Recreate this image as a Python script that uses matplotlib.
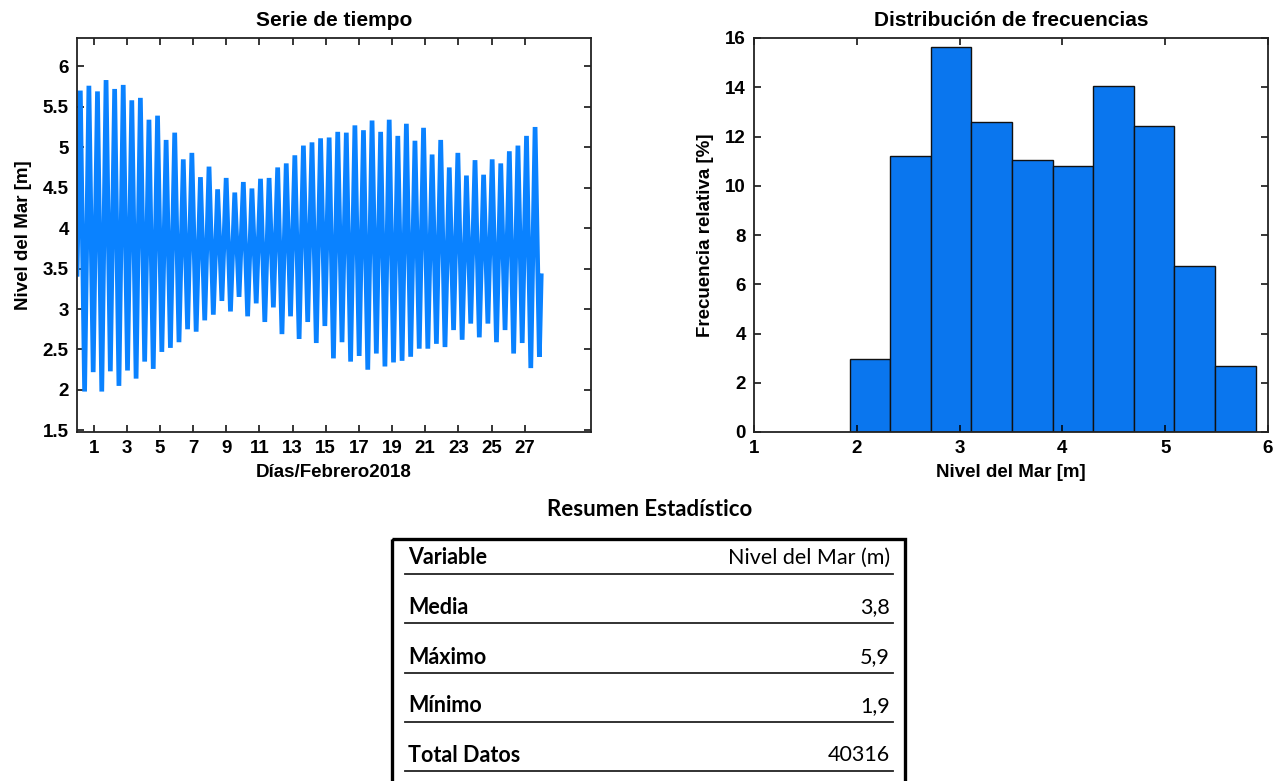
import numpy as np
import matplotlib
matplotlib.use("Agg")
from matplotlib import pyplot as plt
from matplotlib.patches import Rectangle

####################################
### Data
####################################

## high / low water of each semidiurnal tide, February 2018 (m)
high_water = [5.70, 5.76, 5.69, 5.83, 5.72, 5.77, 5.58, 5.61, 5.34, 5.39,
              5.09, 5.18, 4.85, 4.93, 4.63, 4.76, 4.48, 4.62, 4.44, 4.57,
              4.49, 4.61, 4.62, 4.75, 4.80, 4.90, 5.02, 5.06, 5.11, 5.12,
              5.19, 5.18, 5.27, 5.21, 5.33, 5.19, 5.34, 5.14, 5.29, 5.08,
              5.24, 4.91, 5.09, 4.75, 4.93, 4.65, 4.84, 4.66, 4.85, 4.80,
              4.95, 5.02, 5.14, 5.25]
low_water = [1.98, 2.22, 1.98, 2.23, 2.05, 2.24, 2.14, 2.35, 2.26, 2.47,
             2.52, 2.59, 2.75, 2.72, 2.86, 2.93, 3.10, 2.97, 3.15, 2.91,
             3.07, 2.84, 3.02, 2.69, 2.91, 2.63, 2.84, 2.58, 2.79, 2.39,
             2.59, 2.35, 2.42, 2.25, 2.45, 2.29, 2.34, 2.36, 2.41, 2.51,
             2.51, 2.57, 2.53, 2.74, 2.62, 2.82, 2.65, 2.82, 2.59, 2.74,
             2.45, 2.58, 2.27, 2.41]
start_level = 3.40
end_level = 3.44
first_high = 0.20        ## day of first high water
tide_period = 0.5175     ## days (M2)
record_end = 28.0

## histogram of the record
bin_edges = [1.93, 2.325, 2.72, 3.115, 3.51, 3.905, 4.30, 4.695, 5.09, 5.485, 5.88]
rel_freq = [2.97, 11.21, 15.62, 12.58, 11.05, 10.82, 14.05, 12.41, 6.75, 2.66]

day_ticks = list(range(1, 28, 2))
level_ticks = [1.5, 2, 2.5, 3, 3.5, 4, 4.5, 5, 5.5, 6]
level_ticklabels = ["1.5", "2", "2.5", "3", "3.5", "4", "4.5", "5", "5.5", "6"]

stat_names = ["Variable", "Media", "Máximo", "Mínimo", "Total Datos"]
stat_values = ["Nivel del Mar (m)", "3,8", "5,9", "1,9", "40316"]

####################################
### Build the time axis
####################################

n = len(high_water)
t_high = first_high + tide_period * np.arange(n)
t_low = t_high + tide_period / 2

t = np.empty(2 * n + 2)
h = np.empty(2 * n + 2)
t[0], h[0] = 0.0, start_level
t[1:-1:2], h[1:-1:2] = t_high, high_water
t[2:-1:2], h[2:-1:2] = t_low, low_water
t[-1], h[-1] = record_end, end_level

####################################
### Figure
####################################

plt.rcParams["font.family"] = "Liberation Sans"
plt.rcParams["font.weight"] = "bold"

W, H = 1278, 781
fig = plt.figure(figsize=(W / 100, H / 100), dpi=100)

def px_axes(left, top, right, bottom):
    return fig.add_axes([left / W, 1 - bottom / H, (right - left) / W, (bottom - top) / H])

def matlab_style(ax):
    for s in ax.spines.values():
        s.set_linewidth(1.3)
        s.set_color("#222222")
    ax.tick_params(direction="in", top=True, right=True, length=5, width=1.1,
                   labelsize=13.5, pad=6)
    for lab in ax.get_xticklabels() + ax.get_yticklabels():
        lab.set_fontweight("bold")

line_blue = "#0a82ff"
bar_blue = "#0a76ee"

## time series
ax1 = px_axes(77, 38, 591, 432)
ax1.plot(t, h, color=line_blue, linewidth=3.4, solid_joinstyle="bevel",
         solid_capstyle="butt")
ax1.set_xlim(0, 31)
ax1.set_ylim(1.48, 6.35)
ax1.set_xticks(day_ticks)
ax1.set_yticks(level_ticks)
ax1.set_yticklabels(level_ticklabels)
matlab_style(ax1)
ax1.set_title("Serie de tiempo", fontsize=15, fontweight="bold", pad=9)
ax1.set_xlabel("Días/Febrero2018", fontsize=13.5, fontweight="bold", labelpad=5)
ax1.set_ylabel("Nivel del Mar [m]", fontsize=13.5, fontweight="bold", labelpad=8)

## histogram
ax2 = px_axes(754, 38, 1268, 432)
widths = np.diff(bin_edges)
ax2.bar(bin_edges[:-1], rel_freq, width=widths, align="edge",
        color=bar_blue, edgecolor="#111111", linewidth=1.0)
ax2.set_xlim(1, 6)
ax2.set_ylim(0, 16)
ax2.set_xticks(range(1, 7))
ax2.set_yticks(range(0, 17, 2))
matlab_style(ax2)
ax2.set_title("Distribución de frecuencias", fontsize=15, fontweight="bold", pad=9)
ax2.set_xlabel("Nivel del Mar [m]", fontsize=13.5, fontweight="bold", labelpad=5)
ax2.set_ylabel("Frecuencia relativa [%]", fontsize=13.5, fontweight="bold", labelpad=8)

####################################
### Summary table
####################################

tab = fig.add_axes([0, 0, 1, 1])
tab.set_xlim(0, W)
tab.set_ylim(H, 0)
tab.axis("off")

tab_font = "Lato"
tab.text(650, 509, "Resumen Estadístico", ha="center", va="center",
         fontsize=16, fontweight="bold", family=tab_font)
tab.add_patch(Rectangle((392, 539), 513, 260, fill=False, edgecolor="black",
                        linewidth=2.4, clip_on=False))

row_y = [558, 607, 657, 706, 755]
for i, (name, val) in enumerate(zip(stat_names, stat_values)):
    y = row_y[i]
    tab.text(408, y, name, ha="left", va="center", fontsize=15.5,
             fontweight="bold", family=tab_font)
    tab.text(890, y, val, ha="right", va="center", fontsize=15.5,
             fontweight="normal", family=tab_font)
    tab.plot([405, 893], [y + 16, y + 16], color="#222222", linewidth=1.3)

plt.savefig("out.png", dpi=100)
